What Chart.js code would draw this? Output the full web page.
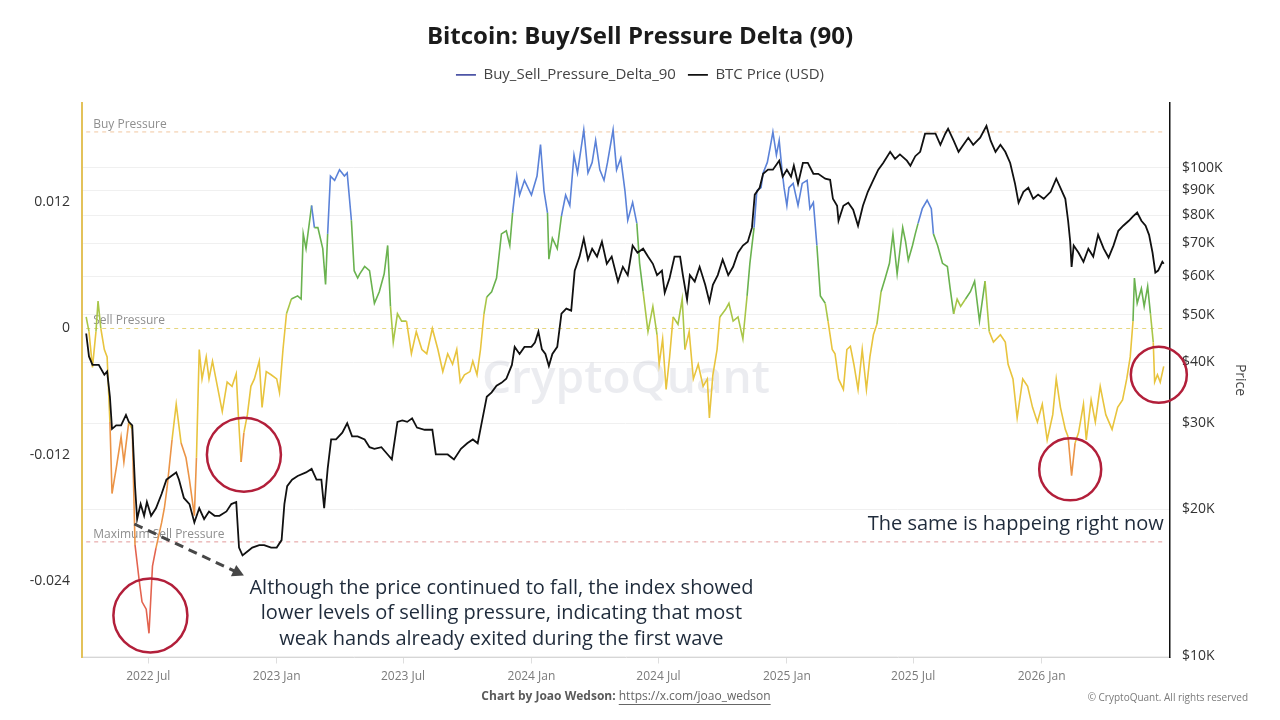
<!DOCTYPE html>
<html lang="en">
<head>
<meta charset="UTF-8">
<title>Bitcoin: Buy/Sell Pressure Delta (90)</title>
<script src="https://cdn.jsdelivr.net/npm/chart.js@4.4.1/dist/chart.umd.min.js"></script>
<style>
    html, body { margin: 0; padding: 0; background: #fff; }
    .wrap { position: relative; width: 1280px; height: 720px; }
    canvas { display: block; }
</style>
</head>
<body>
<div class="wrap"><canvas id="chart" width="1280" height="720"></canvas></div>
<script>
// ---- data ----
const deltaDates = [
    '2022-04-03','2022-04-07','2022-04-12','2022-04-17','2022-04-20','2022-04-24','2022-04-29','2022-05-03','2022-05-07','2022-05-10','2022-05-16','2022-05-23','2022-05-27',
    '2022-06-03','2022-06-08','2022-06-12','2022-06-18','2022-06-22','2022-06-28','2022-07-02','2022-07-07','2022-07-12','2022-07-20','2022-07-24','2022-07-28',
    '2022-08-04','2022-08-10','2022-08-17','2022-08-24','2022-08-29','2022-09-05','2022-09-08','2022-09-12','2022-09-16','2022-09-22','2022-09-26',
    '2022-10-01','2022-10-08','2022-10-15','2022-10-22','2022-10-29','2022-11-04','2022-11-07','2022-11-11','2022-11-15','2022-11-20','2022-11-25','2022-11-30','2022-12-07','2022-12-11','2022-12-17','2022-12-24',
    '2023-01-01','2023-01-05','2023-01-10','2023-01-15','2023-01-22','2023-01-31','2023-02-05','2023-02-08','2023-02-12','2023-02-20','2023-02-24','2023-03-01','2023-03-08','2023-03-12','2023-03-15','2023-03-19','2023-03-25',
    '2023-04-01','2023-04-08','2023-04-12','2023-04-18','2023-04-22','2023-04-27','2023-04-30','2023-05-07','2023-05-14','2023-05-21','2023-05-28','2023-06-04','2023-06-09','2023-06-13','2023-06-17','2023-06-23','2023-06-29',
    '2023-07-06','2023-07-13','2023-07-20','2023-07-28','2023-08-04','2023-08-12','2023-08-20','2023-08-27','2023-09-03','2023-09-10','2023-09-16','2023-09-21','2023-09-27',
    '2023-10-05','2023-10-09','2023-10-15','2023-10-20','2023-10-25','2023-10-29','2023-11-05','2023-11-12','2023-11-19','2023-11-26','2023-12-01','2023-12-05','2023-12-11','2023-12-15','2023-12-22',
    '2024-01-01','2024-01-09','2024-01-14','2024-01-19','2024-01-24','2024-01-26','2024-01-31','2024-02-07','2024-02-13','2024-02-19','2024-02-25','2024-03-02','2024-03-07','2024-03-16','2024-03-22','2024-03-28',
    '2024-04-02','2024-04-08','2024-04-14','2024-04-19','2024-04-27','2024-05-02','2024-05-08','2024-05-14','2024-05-18','2024-05-25','2024-05-31','2024-06-04','2024-06-09','2024-06-16','2024-06-23','2024-06-29',
    '2024-07-02','2024-07-07','2024-07-12','2024-07-17','2024-07-22','2024-07-29','2024-08-04','2024-08-08','2024-08-14','2024-08-20','2024-08-27','2024-09-03','2024-09-09','2024-09-12','2024-09-17','2024-09-23','2024-09-27',
    '2024-10-05','2024-10-10','2024-10-16','2024-10-23','2024-10-30','2024-11-05','2024-11-09','2024-11-15','2024-11-19','2024-11-25','2024-11-28','2024-12-04','2024-12-08','2024-12-12','2024-12-17','2024-12-21','2024-12-25','2024-12-28',
    '2025-01-01','2025-01-04','2025-01-10','2025-01-17','2025-01-23','2025-01-30','2025-02-03','2025-02-08','2025-02-13','2025-02-18','2025-02-25','2025-03-01','2025-03-07','2025-03-11','2025-03-16','2025-03-23','2025-03-28',
    '2025-04-02','2025-04-07','2025-04-13','2025-04-19','2025-04-25','2025-04-30','2025-05-05','2025-05-10','2025-05-16','2025-05-22','2025-05-28','2025-06-02','2025-06-08','2025-06-16','2025-06-20','2025-06-24','2025-06-30',
    '2025-07-04','2025-07-08','2025-07-14','2025-07-21','2025-07-27','2025-07-30','2025-08-05','2025-08-12','2025-08-19','2025-08-23','2025-08-28','2025-09-02','2025-09-07','2025-09-14','2025-09-21','2025-09-27',
    '2025-10-04','2025-10-12','2025-10-18','2025-10-24','2025-11-03','2025-11-10','2025-11-14','2025-11-21','2025-11-27','2025-12-05','2025-12-12','2025-12-19','2025-12-26',
    '2026-01-02','2026-01-09','2026-01-17','2026-01-22','2026-01-28','2026-02-04','2026-02-08','2026-02-13','2026-02-18','2026-02-23','2026-03-02','2026-03-06','2026-03-13','2026-03-19','2026-03-26',
    '2026-04-03','2026-04-12','2026-04-20','2026-04-27','2026-05-03','2026-05-08','2026-05-12','2026-05-14','2026-05-18','2026-05-24','2026-05-28','2026-06-02','2026-06-06','2026-06-10','2026-06-12','2026-06-16','2026-06-20','2026-06-25'
];
const deltaValues = [
    0.0011,-0.0003,-0.0037,-0.0003,0.0026,0.0000,-0.0020,-0.0027,-0.0089,-0.0157,-0.0133,-0.0103,-0.0127,
    -0.0089,-0.0096,-0.0206,-0.0240,-0.0260,-0.0267,-0.0290,-0.0226,-0.0209,-0.0185,-0.0171,-0.0151,
    -0.0106,-0.0072,-0.0109,-0.0123,-0.0144,-0.0178,-0.0123,-0.0020,-0.0048,-0.0027,-0.0048,
    -0.0031,-0.0055,-0.0079,-0.0051,-0.0055,-0.0043,-0.0082,-0.0127,-0.0099,-0.0082,-0.0055,-0.0048,-0.0031,-0.0075,-0.0041,-0.0044,
    -0.0048,-0.0061,-0.0020,0.0014,0.0028,0.0031,0.0028,0.0090,0.0076,0.0117,0.0096,0.0096,0.0076,0.0042,0.0090,0.0145,0.0141,
    0.0151,0.0145,0.0148,0.0103,0.0055,0.0048,0.0052,0.0059,0.0055,0.0024,0.0035,0.0052,0.0079,0.0021,-0.0013,0.0014,0.0007,
    0.0007,-0.0024,-0.0003,-0.0020,-0.0024,0.0000,-0.0020,-0.0041,-0.0024,-0.0034,-0.0020,-0.0051,-0.0044,
    -0.0041,-0.0031,-0.0044,-0.0020,0.0014,0.0030,0.0035,0.0048,0.0090,0.0093,0.0079,0.0110,0.0145,0.0127,0.0141,
    0.0127,0.0145,0.0175,0.0131,0.0110,0.0066,0.0086,0.0076,0.0107,0.0127,0.0117,0.0165,0.0148,0.0189,0.0148,0.0158,
    0.0179,0.0151,0.0141,0.0158,0.0189,0.0151,0.0162,0.0131,0.0103,0.0120,0.0100,0.0062,0.0035,-0.0003,0.0021,-0.0006,
    -0.0034,-0.0010,-0.0058,-0.0027,0.0011,0.0004,0.0028,-0.0020,-0.0003,-0.0048,-0.0034,-0.0055,-0.0048,-0.0085,-0.0044,-0.0020,0.0011,
    0.0018,0.0024,0.0007,0.0011,-0.0010,0.0031,0.0062,0.0096,0.0131,0.0134,0.0148,0.0158,0.0172,0.0187,0.0165,0.0179,0.0151,0.0134,
    0.0117,0.0134,0.0138,0.0117,0.0138,0.0141,0.0114,0.0120,0.0079,0.0031,0.0024,0.0007,-0.0020,-0.0024,-0.0048,-0.0058,-0.0020,
    -0.0017,-0.0034,-0.0058,-0.0020,-0.0058,-0.0027,-0.0006,0.0004,0.0035,0.0048,0.0062,0.0090,0.0052,0.0096,0.0083,0.0065,0.0079,
    0.0090,0.0100,0.0114,0.0122,0.0114,0.0090,0.0079,0.0062,0.0059,0.0038,0.0014,0.0028,0.0021,0.0028,0.0035,0.0045,
    0.0007,0.0045,-0.0003,-0.0013,-0.0006,-0.0013,-0.0034,-0.0048,-0.0085,-0.0048,-0.0055,-0.0075,-0.0089,
    -0.0072,-0.0106,-0.0082,-0.0048,-0.0075,-0.0096,-0.0103,-0.0140,-0.0109,-0.0099,-0.0072,-0.0106,-0.0068,-0.0089,-0.0055,
    -0.0082,-0.0096,-0.0075,-0.0068,-0.0048,-0.0027,0.0007,0.0048,0.0024,0.0038,0.0021,0.0040,0.0014,-0.0013,-0.0051,-0.0044,-0.0051,-0.0036
];

const priceDates = [
    '2022-04-03','2022-04-07','2022-04-12','2022-04-17','2022-04-21','2022-04-29','2022-05-03','2022-05-07','2022-05-10','2022-05-16','2022-05-23','2022-05-30','2022-06-03','2022-06-08','2022-06-12','2022-06-15','2022-06-20','2022-06-25','2022-06-29',
    '2022-07-05','2022-07-12','2022-07-20','2022-07-27','2022-08-03','2022-08-10','2022-08-14','2022-08-21','2022-08-29','2022-09-05','2022-09-12','2022-09-19','2022-09-26',
    '2022-10-04','2022-10-11','2022-10-21','2022-10-28','2022-11-04','2022-11-08','2022-11-13','2022-11-20','2022-11-27','2022-12-07','2022-12-14','2022-12-24',
    '2023-01-01','2023-01-08','2023-01-12','2023-01-16','2023-01-23','2023-01-31','2023-02-12','2023-02-20','2023-02-27','2023-03-06','2023-03-10','2023-03-15','2023-03-20','2023-03-27',
    '2023-04-05','2023-04-12','2023-04-19','2023-04-27','2023-05-07','2023-05-14','2023-05-21','2023-05-31','2023-06-09','2023-06-15','2023-06-23','2023-06-30',
    '2023-07-07','2023-07-14','2023-07-21','2023-08-01','2023-08-12','2023-08-17','2023-08-24','2023-09-03','2023-09-12','2023-09-22',
    '2023-10-01','2023-10-09','2023-10-16','2023-10-21','2023-10-29','2023-11-05','2023-11-12','2023-11-19','2023-11-26','2023-12-04','2023-12-08','2023-12-15','2023-12-22',
    '2024-01-01','2024-01-06','2024-01-11','2024-01-16','2024-01-21','2024-01-26','2024-01-31','2024-02-07','2024-02-13','2024-02-20','2024-02-27','2024-03-03','2024-03-10','2024-03-16','2024-03-22','2024-03-28',
    '2024-04-04','2024-04-11','2024-04-18','2024-04-25','2024-05-04','2024-05-11','2024-05-18','2024-05-25','2024-06-01','2024-06-09','2024-06-16','2024-06-23','2024-06-29',
    '2024-07-06','2024-07-10','2024-07-17','2024-07-24','2024-08-01','2024-08-05','2024-08-11','2024-08-15','2024-08-22','2024-08-29','2024-09-06','2024-09-12','2024-09-17','2024-09-24',
    '2024-10-01','2024-10-09','2024-10-16','2024-10-23','2024-10-30','2024-11-06','2024-11-12','2024-11-16','2024-11-23','2024-11-28','2024-12-05','2024-12-12','2024-12-21','2024-12-26',
    '2025-01-01','2025-01-07','2025-01-11','2025-01-17','2025-01-24','2025-01-31','2025-02-08','2025-02-15','2025-02-25','2025-03-04','2025-03-08','2025-03-14','2025-03-16','2025-03-23','2025-03-30',
    '2025-04-06','2025-04-13','2025-04-20','2025-04-27','2025-05-05','2025-05-12','2025-05-19','2025-05-29','2025-06-05','2025-06-12','2025-06-22','2025-06-27',
    '2025-07-04','2025-07-11','2025-07-18','2025-07-25','2025-08-02','2025-08-09','2025-08-16','2025-08-20','2025-08-28','2025-09-04','2025-09-11','2025-09-18','2025-09-25',
    '2025-10-05','2025-10-14','2025-10-20','2025-10-27','2025-11-03','2025-11-10','2025-11-17','2025-11-24','2025-11-29','2025-12-06','2025-12-13','2025-12-20','2025-12-27',
    '2026-01-04','2026-01-14','2026-01-22','2026-01-28','2026-02-04','2026-02-08','2026-02-11','2026-02-13','2026-02-16','2026-02-23','2026-03-02','2026-03-09','2026-03-16','2026-03-23','2026-03-31',
    '2026-04-07','2026-04-14','2026-04-21','2026-04-28','2026-05-06','2026-05-12','2026-05-18','2026-05-24','2026-05-30','2026-06-04','2026-06-09','2026-06-13','2026-06-17','2026-06-23','2026-06-25'
];
const priceValues = [
    45800,41100,39500,39500,39500,37700,38300,34000,29200,29700,29700,31200,30200,29700,22300,19100,20500,19400,20700,
    19400,20100,21500,23000,23400,23800,23000,21100,20500,18800,20100,19100,19800,
    19400,19400,19800,20500,20700,16700,16100,16400,16700,16900,16900,16700,
    16700,17300,20500,22300,23000,23400,23800,24200,23000,23000,20100,24200,27800,27800,
    28700,30000,28200,28200,27800,26800,26600,26800,25900,25300,30200,30400,
    30200,30700,29400,29100,29100,25900,25900,25900,25300,26600,
    27300,27800,27300,29700,34000,34700,35800,36300,37000,39500,43000,41600,43000,
    43000,43900,46200,42500,41600,39300,41600,43000,50300,51500,51000,61600,65800,71600,64900,68300,
    65800,70600,63600,65800,58500,62700,60300,69300,67000,68300,65800,63600,60300,
    61600,55500,59500,65800,65800,60300,53700,60300,58500,62700,57600,53200,57600,60300,
    64900,60300,62700,67000,69300,70600,75400,88100,91000,97200,99100,99100,103400,95900,
    99100,95900,101000,92700,102300,102300,97200,97200,95000,94500,86400,83600,77900,83600,84800,
    82100,76100,83600,89300,94500,99100,102300,107800,104300,106500,103400,101000,
    105600,107800,117400,117400,117400,111400,117400,120200,113600,107800,111400,115200,111400,
    115200,121800,113600,107800,111400,107800,102300,92700,84800,89300,91000,86400,88100,
    86400,89300,95000,91000,86400,77900,70600,62700,69300,67000,64200,68300,65800,72900,68300,
    65500,69300,74300,76100,77900,79500,81000,77900,76100,72900,67000,61000,61600,64200,63600
];

const xTickDates = ['2022-07-01','2023-01-01','2023-07-01','2024-01-01','2024-07-01','2025-01-01','2025-07-01','2026-01-01'];
const xTickLabels = ['2022 Jul','2023 Jan','2023 Jul','2024 Jan','2024 Jul','2025 Jan','2025 Jul','2026 Jan'];
const deltaTicks = [-0.024, -0.012, 0, 0.012];
const priceTicks = [10000, 20000, 30000, 40000, 50000, 60000, 70000, 80000, 90000, 100000];

// reference levels and notes drawn on top
const levelValues = [0.0187, 0, -0.0203];
const levelNames = ['Buy Pressure', 'Sell Pressure', 'Maximum Sell Pressure'];
const circleDates = ['2022-07-04', '2022-11-15', '2026-02-11', '2026-06-18'];
const circleValues = [-0.0273, -0.0120, -0.0134, -0.0044];
const arrowDates = ['2022-06-11', '2022-11-15'];
const arrowValues = [-0.0186, -0.0235];
const noteLines = [
    'Although the price continued to fall, the index showed',
    'lower levels of selling pressure, indicating that most',
    'weak hands already exited during the first wave'
];
const noteDate = '2023-11-19';
const noteValue = -0.0247;
const note2 = 'The same is happeing right now';
const note2Value = -0.0186;

// ---- helpers ----
const toMs = s => Date.parse(s + 'T00:00:00Z');
const FONT = '"Open Sans", "DejaVu Sans", sans-serif';
const levelColors = ['#f1c7a0', '#e6d67e', '#e29a9a'];
const circleRadii = [37, 37, 31, 28];

function deltaColor(v) {
    if (v >= 0.0098) return '#5b82d8';
    if (v >= 0.0025) return '#6ab24f';
    if (v >= 0) return '#a9c648';
    if (v >= -0.0105) return '#e8c43e';
    if (v >= -0.0200) return '#eb9447';
    return '#e3634f';
}

const overlay = {
    id: 'overlay',
    beforeInit(chart) {
        // push the plot area down so it starts where the reference does
        const fit = chart.legend.fit;
        chart.legend.fit = function () {
            fit.call(this);
            this.height = 47.1;
        };
    },
    beforeDatasetsDraw(chart) {
        const {ctx, chartArea: a, scales: {x, yDelta}} = chart;
        ctx.save();
        ctx.font = '600 46px ' + FONT;
        ctx.fillStyle = 'rgba(190,192,204,0.30)';
        ctx.textAlign = 'center';
        ctx.textBaseline = 'middle';
        ctx.fillText('CryptoQuant', (a.left + a.right) / 2, (a.top + a.bottom) / 2);

        const x0 = x.getPixelForValue(toMs(deltaDates[0]));
        const x1 = x.getPixelForValue(toMs(deltaDates[deltaDates.length - 1]));
        levelValues.forEach((v, i) => {
            const y = yDelta.getPixelForValue(v);
            ctx.strokeStyle = levelColors[i];
            ctx.lineWidth = 1;
            ctx.setLineDash([4, 4]);
            ctx.beginPath();
            ctx.moveTo(x0, y);
            ctx.lineTo(x1, y);
            ctx.stroke();
            ctx.setLineDash([]);
            ctx.font = '12px ' + FONT;
            ctx.fillStyle = '#8e8e8e';
            ctx.textAlign = 'left';
            ctx.textBaseline = 'alphabetic';
            ctx.fillText(levelNames[i], x0 + 7, y - 4);
        });
        ctx.restore();
    },
    afterDatasetsDraw(chart) {
        const {ctx, scales: {x, yDelta}} = chart;
        ctx.save();
        // circles
        ctx.strokeStyle = '#b21f3a';
        ctx.lineWidth = 2.5;
        circleDates.forEach((d, i) => {
            const cx = x.getPixelForValue(toMs(d));
            const cy = yDelta.getPixelForValue(circleValues[i]);
            ctx.beginPath();
            ctx.arc(cx, cy, circleRadii[i], 0, Math.PI * 2);
            ctx.stroke();
        });
        // dashed arrow
        const ax0 = x.getPixelForValue(toMs(arrowDates[0]));
        const ay0 = yDelta.getPixelForValue(arrowValues[0]);
        const ax1 = x.getPixelForValue(toMs(arrowDates[1]));
        const ay1 = yDelta.getPixelForValue(arrowValues[1]);
        const ang = Math.atan2(ay1 - ay0, ax1 - ax0);
        ctx.strokeStyle = '#474747';
        ctx.fillStyle = '#474747';
        ctx.lineWidth = 3;
        ctx.setLineDash([9, 6]);
        ctx.beginPath();
        ctx.moveTo(ax0, ay0);
        ctx.lineTo(ax1 - 8 * Math.cos(ang), ay1 - 8 * Math.sin(ang));
        ctx.stroke();
        ctx.setLineDash([]);
        ctx.beginPath();
        ctx.moveTo(ax1, ay1);
        ctx.lineTo(ax1 - 13 * Math.cos(ang - 0.5), ay1 - 13 * Math.sin(ang - 0.5));
        ctx.lineTo(ax1 - 13 * Math.cos(ang + 0.5), ay1 - 13 * Math.sin(ang + 0.5));
        ctx.closePath();
        ctx.fill();
        // notes
        ctx.font = '20px ' + FONT;
        ctx.fillStyle = '#1f2b3b';
        ctx.textBaseline = 'middle';
        ctx.textAlign = 'center';
        const nx = x.getPixelForValue(toMs(noteDate));
        const ny = yDelta.getPixelForValue(noteValue);
        noteLines.forEach((t, i) => ctx.fillText(t, nx, ny + i * 25.5));
        ctx.textAlign = 'right';
        ctx.fillText(note2, x.getPixelForValue(toMs(deltaDates[deltaDates.length - 1])), yDelta.getPixelForValue(note2Value));
        ctx.restore();
    },
    afterDraw(chart) {
        const {ctx, chartArea: a} = chart;
        ctx.save();
        ctx.textBaseline = 'middle';
        ctx.textAlign = 'left';
        const bold = 'bold 12px ' + FONT, normal = '12px ' + FONT;
        const t1 = 'Chart by Joao Wedson: ', t2 = 'https://x.com/joao_wedson';
        ctx.font = bold;
        const w1 = ctx.measureText(t1).width;
        ctx.font = normal;
        const w2 = ctx.measureText(t2).width;
        const sx = (a.left + a.right) / 2 - (w1 + w2) / 2;
        const fy = 697;
        ctx.font = bold;
        ctx.fillStyle = '#5a5a5a';
        ctx.fillText(t1, sx, fy);
        ctx.font = normal;
        ctx.fillStyle = '#666';
        ctx.fillText(t2, sx + w1, fy);
        ctx.fillRect(sx + w1, fy + 7, w2, 1);
        ctx.font = '10px ' + FONT;
        ctx.fillStyle = '#7a7a7a';
        ctx.textAlign = 'right';
        ctx.fillText('\u00A9 CryptoQuant. All rights reserved', 1248, fy + 1);
        ctx.restore();
    }
};

Chart.defaults.font.family = FONT;

new Chart(document.getElementById('chart'), {
    type: 'line',
    data: {
        datasets: [{
            label: 'Buy_Sell_Pressure_Delta_90',
            data: deltaDates.map((d, i) => ({x: toMs(d), y: deltaValues[i]})),
            yAxisID: 'yDelta',
            borderColor: '#4d55a6',
            borderWidth: 1.6,
            pointRadius: 0,
            tension: 0,
            order: 1,
            segment: {
                borderColor: c => deltaColor((c.p0.parsed.y + c.p1.parsed.y) / 2)
            }
        }, {
            label: 'BTC Price (USD)',
            data: priceDates.map((d, i) => ({x: toMs(d), y: priceValues[i]})),
            yAxisID: 'yPrice',
            borderColor: '#111111',
            borderWidth: 1.8,
            pointRadius: 0,
            tension: 0,
            order: 0
        }]
    },
    options: {
        responsive: false,
        animation: false,
        layout: {padding: 0},
        plugins: {
            title: {
                display: true,
                text: 'Bitcoin: Buy/Sell Pressure Delta (90)',
                color: '#1b1b1b',
                font: {size: 24, weight: 'bold', lineHeight: 1.2},
                padding: {top: 22.6, bottom: 4}
            },
            legend: {
                display: true,
                labels: {
                    color: '#444',
                    font: {size: 15},
                    usePointStyle: true,
                    pointStyle: 'line',
                    pointStyleWidth: 20,
                    padding: 12,
                    sort: (a, b) => a.datasetIndex - b.datasetIndex,
                    generateLabels(chart) {
                        const items = Chart.defaults.plugins.legend.labels.generateLabels(chart);
                        items.forEach(it => { it.lineWidth = 1.6; it.strokeStyle = chart.data.datasets[it.datasetIndex].borderColor; });
                        return items;
                    }
                }
            },
            tooltip: {enabled: false}
        },
        scales: {
            x: {
                type: 'linear',
                min: toMs('2022-03-28'),
                max: toMs('2026-07-04'),
                afterBuildTicks: s => { s.ticks = xTickDates.map(d => ({value: toMs(d)})); },
                afterFit: s => { s.height = 62.5; },
                ticks: {
                    color: '#7a7a7a',
                    font: {size: 12},
                    padding: 6,
                    maxRotation: 0,
                    callback: v => xTickLabels[xTickDates.findIndex(d => toMs(d) === v)]
                },
                grid: {drawOnChartArea: false, drawTicks: true, tickLength: 6, color: '#dedede'},
                border: {display: true, color: '#d6d6d6', width: 1}
            },
            yDelta: {
                type: 'linear',
                position: 'left',
                min: -0.0313,
                max: 0.0215,
                afterBuildTicks: s => { s.ticks = deltaTicks.map(v => ({value: v})); },
                afterFit: s => { s.width = 82; },
                ticks: {color: '#333', font: {size: 14}, padding: 12, callback: v => String(v)},
                grid: {display: false, drawTicks: false},
                border: {display: true, color: '#e3c25a', width: 2}
            },
            yPrice: {
                type: 'logarithmic',
                position: 'right',
                min: 9950,
                max: 136000,
                afterBuildTicks: s => { s.ticks = priceTicks.map(v => ({value: v})); },
                afterFit: s => { s.width = 110; },
                ticks: {color: '#333', font: {size: 14}, padding: 12, callback: v => '$' + (v / 1000) + 'K'},
                grid: {drawOnChartArea: true, drawTicks: false, color: '#f0f0f0'},
                border: {display: true, color: '#111', width: 1.5},
                title: {display: true, text: 'Price', color: '#444', font: {size: 14}, padding: {top: 32, bottom: 0}}
            }
        }
    },
    plugins: [overlay]
});
</script>
</body>
</html>
